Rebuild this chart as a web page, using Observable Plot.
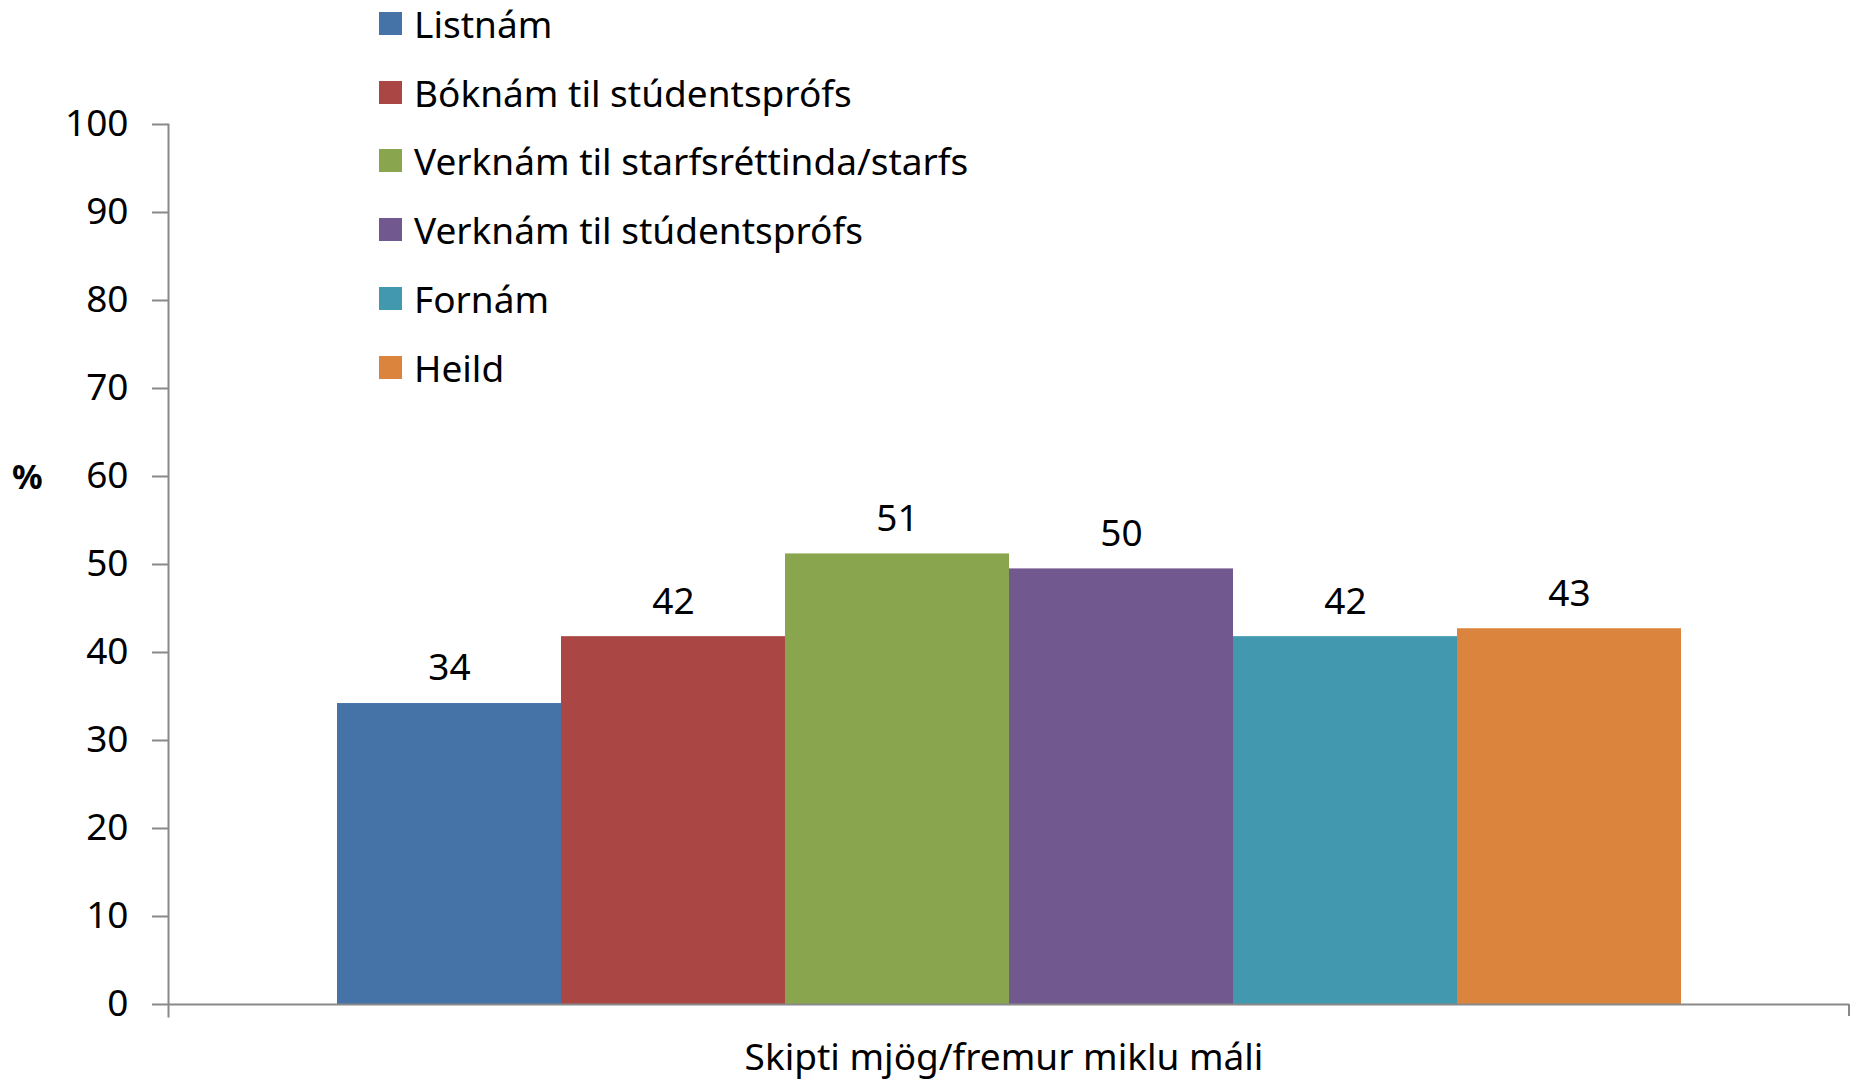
<!DOCTYPE html>
<html>
<head>
<meta charset="utf-8">
<script src="https://cdn.jsdelivr.net/npm/d3@7"></script>
<script src="https://cdn.jsdelivr.net/npm/@observablehq/plot@0.6"></script>
<style>
  html, body { margin: 0; padding: 0; background: #fff; }
  #wrap { position: relative; width: 1858px; height: 1081px; font-family: "Noto Sans", sans-serif; }
  #legend { position: absolute; left: 379px; top: -11px; }
  .row { height: 68.8px; display: flex; align-items: center; font-size: 37px; color: #000; white-space: nowrap; }
  .sw { width: 23px; height: 23px; margin-right: 12px; flex: none; }
  #pct { position: absolute; left: 12px; top: 453px; font-size: 34px; font-weight: bold; }
</style>
</head>
<body>
<div id="wrap"></div>
<script>
const series = ["Listnám", "Bóknám til stúdentsprófs", "Verknám til starfsréttinda/starfs", "Verknám til stúdentsprófs", "Fornám", "Heild"];
const values = [34.2, 41.8, 51.2, 49.5, 41.8, 42.7];
const labels = ["34", "42", "51", "50", "42", "43"];
const colors = ["#4572A7", "#AA4643", "#89A54E", "#71588F", "#4198AF", "#DB843D"];
const category = "Skipti mjög/fremur miklu máli";
const yTicks = [0, 10, 20, 30, 40, 50, 60, 70, 80, 90, 100];

const data = series.map((s, i) => ({series: s, value: values[i], label: labels[i]}));
const axisColor = "#898989";

const chart = Plot.plot({
  width: 1858,
  height: 1081,
  marginLeft: 168,
  marginRight: 9,
  marginTop: 124,
  marginBottom: 77,
  style: {fontFamily: "Noto Sans, sans-serif", fontSize: "37px", background: "#fff", color: "#000"},
  x: {type: "band", domain: series, paddingInner: 0, paddingOuter: 0.74, axis: null},
  y: {domain: [0, 100], ticks: yTicks},
  color: {domain: series, range: colors},
  marks: [
    Plot.barY(data, {x: "series", y: "value", fill: "series"}),
    Plot.text(data, {x: "series", y: "value", text: "label", dy: -35, fill: "#000", fontSize: 37}),
    Plot.axisY({ticks: yTicks, tickSize: 16, tickPadding: 24, stroke: axisColor, strokeWidth: 2, fill: "#000", fontSize: 37, label: null, tickFormat: d => String(d)}),
    Plot.frame({anchor: "left", stroke: axisColor, strokeWidth: 2, insetBottom: -12}),
    Plot.ruleY([0], {stroke: axisColor, strokeWidth: 2}),
    Plot.text([category], {frameAnchor: "bottom", dy: 65, dx: -5, text: d => d, fill: "#000", fontSize: 37})
  ]
});

// small category-boundary tick at the right end of the x axis
const sx = chart.scale("x"), sy = chart.scale("y");
d3.select(chart).append("line")
  .attr("x1", sx.range[1]).attr("x2", sx.range[1])
  .attr("y1", sy.apply(0)).attr("y2", sy.apply(0) + 12)
  .attr("stroke", axisColor).attr("stroke-width", 2);

const wrap = document.getElementById("wrap");
wrap.appendChild(chart);

const legend = document.createElement("div");
legend.id = "legend";
series.forEach((s, i) => {
  const row = document.createElement("div");
  row.className = "row";
  const sw = document.createElement("span");
  sw.className = "sw";
  sw.style.background = colors[i];
  const t = document.createElement("span");
  t.textContent = s;
  row.appendChild(sw); row.appendChild(t);
  legend.appendChild(row);
});
wrap.appendChild(legend);

const pct = document.createElement("div");
pct.id = "pct";
pct.textContent = "%";
wrap.appendChild(pct);
</script>
</body>
</html>
